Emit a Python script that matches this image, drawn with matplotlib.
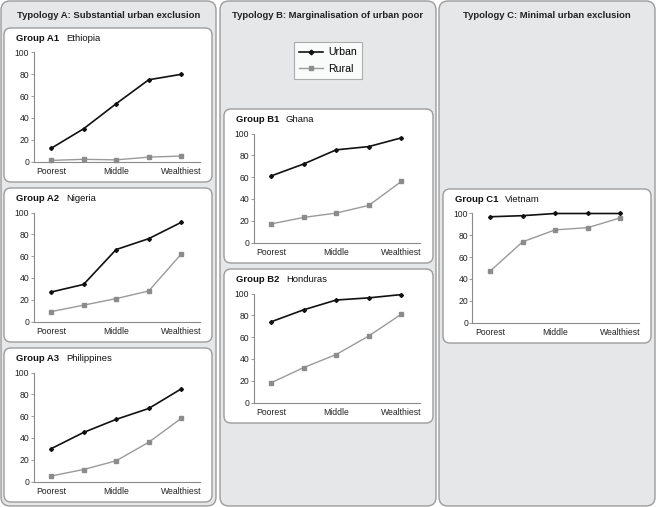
import matplotlib
matplotlib.use('Agg')
import matplotlib.pyplot as plt
from matplotlib.patches import FancyBboxPatch
from matplotlib.lines import Line2D

plt.rcParams['font.family'] = ['Liberation Sans', 'DejaVu Sans']

W, H = 656, 507

# wealth quintiles
quintiles = [1, 2, 3, 4, 5]
tick_pos = [1, 3, 5]
tick_labels = ['Poorest', 'Middle', 'Wealthiest']

ethiopia_urban = [12, 30, 53, 75, 80]
ethiopia_rural = [1, 2, 1.5, 4, 5]
nigeria_urban = [27, 34, 66, 76, 91]
nigeria_rural = [9, 15, 21, 28, 62]
philippines_urban = [30, 45, 57, 67, 85]
philippines_rural = [5, 11, 19, 36, 58]
ghana_urban = [61, 72, 85, 88, 96]
ghana_rural = [17, 23, 27, 34, 56]
honduras_urban = [74, 85, 94, 96, 99]
honduras_rural = [18, 32, 44, 61, 81]
vietnam_urban = [97, 98, 100, 100, 100]
vietnam_rural = [47, 74, 85, 87, 96]

typology_titles = ['Typology A: Substantial urban exclusion',
                   'Typology B: Marginalisation of urban poor',
                   'Typology C: Minimal urban exclusion']

URBAN_C = '#111111'
RURAL_C = '#9a9a9a'
PANEL_BG = '#e6e7e8'
EDGE = '#9c9c9c'

fig = plt.figure(figsize=(W / 100, H / 100), dpi=100)
fig.patch.set_facecolor('white')

bg = fig.add_axes([0, 0, 1, 1])
bg.set_xlim(0, W)
bg.set_ylim(H, 0)
bg.axis('off')


def rbox(l, t, r, b, face, rad):
    p = FancyBboxPatch((l, t), r - l, b - t,
                       boxstyle='round,pad=0,rounding_size=%d' % rad,
                       facecolor=face, edgecolor=EDGE, linewidth=1.0)
    bg.add_patch(p)


# typology panels
panels = [(1, 1, 216, 506), (220, 1, 436, 506), (439, 1, 655, 506)]
for (l, t, r, b), title in zip(panels, typology_titles):
    rbox(l, t, r, b, PANEL_BG, 9)
    bg.text((l + r) / 2, 15, title, ha='center', va='center',
            fontsize=6.8, fontweight='bold', color='#222222')

groups = [
    ('Group A1', 'Ethiopia', (4, 28, 212, 182), ethiopia_urban, ethiopia_rural),
    ('Group A2', 'Nigeria', (4, 188, 212, 342), nigeria_urban, nigeria_rural),
    ('Group A3', 'Philippines', (4, 348, 212, 502), philippines_urban, philippines_rural),
    ('Group B1', 'Ghana', (224, 109, 433, 263), ghana_urban, ghana_rural),
    ('Group B2', 'Honduras', (224, 269, 433, 423), honduras_urban, honduras_rural),
    ('Group C1', 'Vietnam', (443, 189, 651, 343), vietnam_urban, vietnam_rural),
]

for name, country, (l, t, r, b), urban, rural in groups:
    rbox(l, t, r, b, 'white', 7)
    bg.text(l + 12, t + 10.5, name, ha='left', va='center',
            fontsize=6.8, fontweight='bold', color='#111111')
    bg.text(l + 62, t + 10.5, country, ha='left', va='center',
            fontsize=6.8, color='#111111')

    al, ar = l + 29.5, l + 196
    at, ab = t + 24.5, t + 133.5
    ax = fig.add_axes([al / W, 1 - ab / H, (ar - al) / W, (ab - at) / H])
    ax.set_facecolor('none')
    ax.plot(quintiles, rural, color=RURAL_C, lw=1.0, marker='s', ms=2.3,
            mfc='#8c8c8c', mec='#8c8c8c', clip_on=False)
    ax.plot(quintiles, urban, color=URBAN_C, lw=1.2, marker='D', ms=2.0,
            clip_on=False)
    ax.set_xlim(0.464, 5.573)
    ax.set_ylim(0, 100)
    ax.set_yticks([0, 20, 40, 60, 80, 100])
    ax.set_xticks(tick_pos)
    ax.set_xticklabels(tick_labels)
    for s in ['top', 'right']:
        ax.spines[s].set_visible(False)
    for s in ['left', 'bottom']:
        ax.spines[s].set_color('#8a8a8a')
        ax.spines[s].set_linewidth(0.8)
    ax.tick_params(axis='y', length=2, width=0.6, color='#8a8a8a', pad=1,
                   labelsize=6.2, labelcolor='#222222')
    ax.tick_params(axis='x', length=0, pad=4, labelsize=6.2, labelcolor='#222222')

# legend in typology B panel
handles = [Line2D([], [], color=URBAN_C, lw=1.2, marker='D', ms=2.4),
           Line2D([], [], color=RURAL_C, lw=1.0, marker='s', ms=2.8,
                  mfc='#8c8c8c', mec='#8c8c8c')]
leg = fig.legend(handles, ['Urban', 'Rural'], loc='center',
                 bbox_to_anchor=(328 / W, 1 - 60.5 / H),
                 fontsize=7.6, frameon=True, fancybox=False,
                 handlelength=2.3, handletextpad=0.5, borderpad=0.5,
                 labelspacing=0.6)
leg.get_frame().set_edgecolor(EDGE)
leg.get_frame().set_linewidth(0.8)

fig.savefig('out.png', dpi=100)
